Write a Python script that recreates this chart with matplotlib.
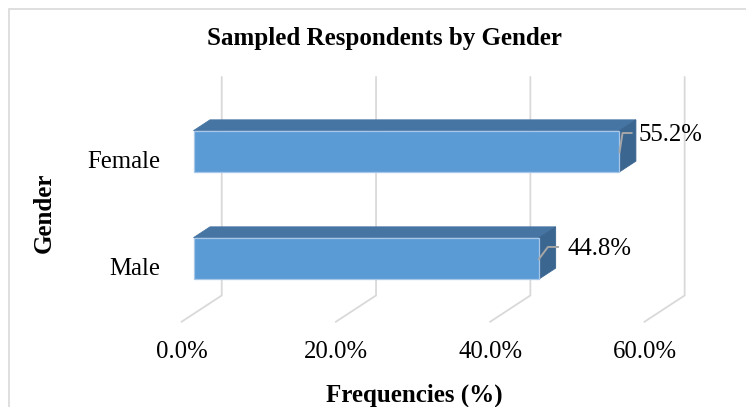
import matplotlib
matplotlib.use("Agg")
import matplotlib.pyplot as plt
from matplotlib.patches import Polygon, Rectangle

# ---- data ----
categories = ["Male", "Female"]
values = [44.8, 55.2]
x_ticks = [0, 20, 40, 60]
title = "Sampled Respondents by Gender"
x_title = "Frequencies (%)"
y_title = "Gender"

# ---- layout / style ----
W, H, DPI = 746, 407, 100
SERIF = ["Liberation Serif", "DejaVu Serif"]
FRONT = "#5B9BD5"
TOP = "#4674A3"
SIDE = "#3B6690"
EDGE = "#A7C7E9"
GRID = "#D9D9D9"
LEADER = "#A6A6A6"
LABEL_SIZE = 17.8
TITLE_SIZE = 18

# oblique depth projection (data units per unit of depth)
DX, DY = 2.14, 0.101
Z_FRONT, Z_BACK = -0.72, 1.71      # floor / back wall depth
Y_FLOOR, Y_TOP = -0.52, 1.52       # vertical extent of the walls
HALF = 0.193                       # half bar thickness

# label offsets (x, y) relative to bar end / category
label_off = [(3.61, 0.031), (2.54, 0.099)]
leader_pts = [
    [(-0.03, -0.007), (1.14, 0.106), (2.44, 0.106)],
    [(0.02, -0.007), (0.41, 0.171), (1.58, 0.171)],
]


def proj(x, y, z):
    return (x + z * DX, y + z * DY)


fig = plt.figure(figsize=(W / DPI, H / DPI), dpi=DPI)
ax = fig.add_axes([0, 0, 1, 1])
ax.set_xlim(-25.08, 71.61)
ax.set_ylim(-1.3897, 2.414)
ax.axis("off")

# chart frame
fig.patches.append(Rectangle((8.5 / W, -0.05), 1.2, (H - 8.5) / H + 0.05,
                             transform=fig.transFigure, fill=False,
                             edgecolor="#D9D9D9", lw=1.2, zorder=0))

# gridlines on back wall and floor
for t in x_ticks:
    p0 = proj(t, Y_TOP, Z_BACK)
    p1 = proj(t, Y_FLOOR, Z_BACK)
    p2 = proj(t, Y_FLOOR, Z_FRONT)
    ax.plot([p0[0], p1[0], p2[0]], [p0[1], p1[1], p2[1]],
            color=GRID, lw=1.3, solid_joinstyle="miter", zorder=1)
    ax.text(p2[0], p2[1] - 0.335, f"{t:.1f}%", ha="center", va="baseline",
            fontsize=LABEL_SIZE, family=SERIF, color="#000000")

# 3-D bars
for i, (cat, v) in enumerate(zip(categories, values)):
    lo, hi = i - HALF, i + HALF
    top = [proj(0, hi, 0), proj(v, hi, 0), proj(v, hi, 1), proj(0, hi, 1)]
    side = [proj(v, lo, 0), proj(v, hi, 0), proj(v, hi, 1), proj(v, lo, 1)]
    front = [proj(0, lo, 0), proj(v, lo, 0), proj(v, hi, 0), proj(0, hi, 0)]
    ax.add_patch(Polygon(top, closed=True, facecolor=TOP, edgecolor=TOP,
                         lw=0.6, zorder=3))
    ax.add_patch(Polygon(side, closed=True, facecolor=SIDE, edgecolor=SIDE,
                         lw=0.6, zorder=3))
    ax.add_patch(Polygon(front, closed=True, facecolor=FRONT, edgecolor=EDGE,
                         lw=0.9, zorder=4))

    # category label
    ax.text(-4.34, i - 0.158, cat, ha="right", va="baseline",
            fontsize=LABEL_SIZE, family=SERIF, color="#000000")

    # value label with leader line
    pts = [(v + dx, i + dy) for dx, dy in leader_pts[i]]
    ax.plot([p[0] for p in pts], [p[1] for p in pts], color=LEADER,
            lw=1.4, zorder=5)
    ox, oy = label_off[i]
    ax.text(v + ox, i + oy, f"{v:.1f}%", ha="left", va="baseline",
            fontsize=LABEL_SIZE, family=SERIF, color="#000000", zorder=6)

# titles
fig.text(384 / W, (H - 45) / H, title, ha="center", va="baseline",
         fontsize=TITLE_SIZE, fontweight="bold", family=SERIF)
fig.text(414 / W, (H - 401.5) / H, x_title, ha="center", va="baseline",
         fontsize=TITLE_SIZE, fontweight="bold", family=SERIF)
fig.text(51 / W, (H - 212.5) / H, y_title, ha="center", va="baseline",
         rotation=90, rotation_mode="anchor",
         fontsize=TITLE_SIZE, fontweight="bold", family=SERIF)

fig.savefig("out.png", dpi=DPI)
